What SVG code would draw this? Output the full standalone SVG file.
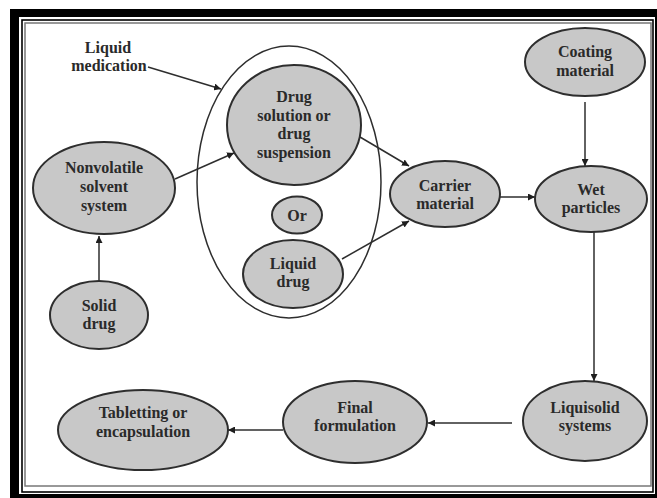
<svg xmlns="http://www.w3.org/2000/svg" width="657" height="498" viewBox="0 0 657 498">
<style>
.n{fill:#c8c8c8;stroke:#2e2e2e;stroke-width:2}
.t{font-family:"Liberation Serif","Times New Roman",serif;font-size:16px;font-weight:bold;fill:#2a2a2a;text-anchor:middle}
.c{stroke:#2e2e2e;stroke-width:1.5;fill:none;marker-end:url(#ah)}
</style>
<defs>
<marker id="ah" viewBox="0 0 10 10" refX="10" refY="5" markerWidth="7" markerHeight="7" markerUnits="userSpaceOnUse" orient="auto">
<path d="M0,0 L10,5 L0,10 z" fill="#1e1e1e"/>
</marker>
</defs>
<rect x="0" y="0" width="657" height="498" fill="#ffffff"/>
<g id="frame">
<rect x="10" y="9" width="647" height="489" fill="#000"/>
<rect x="19" y="17" width="636" height="477" fill="#fff"/>
<rect x="22" y="20" width="631" height="472" fill="none" stroke="#000" stroke-width="1.6"/>
<rect x="25" y="23" width="626" height="463" fill="#fff" stroke="#777" stroke-width="1.5"/>
</g>
<g id="group-liquid-medication">
<ellipse cx="289" cy="182" rx="92" ry="136" fill="none" stroke="#2e2e2e" stroke-width="1.5"/>
</g>
<g id="label-liquid-medication">
<text class="t" x="108" y="53">Liquid</text>
<text class="t" x="109" y="71">medication</text>
</g>
<g id="connectors">
<path class="c" d="M148,67 L221,89"/>
<path class="c" d="M175,179 L234,153"/>
<path class="c" d="M99,281 L99,236"/>
<path class="c" d="M360,137 L409,166"/>
<path class="c" d="M342,259 L409,221"/>
<path class="c" d="M500,197 L535,197"/>
<path class="c" d="M585,102 L585,166"/>
<path class="c" d="M594,232 L594,381"/>
<path class="c" d="M512,423 L428,423"/>
<path class="c" d="M283,430 L228,430"/>
</g>
<g id="drug-solution">
<ellipse class="n" cx="294" cy="125" rx="67" ry="60"/>
<text class="t" x="294" y="102">Drug</text>
<text class="t" x="294" y="120.5">solution or</text>
<text class="t" x="294" y="139">drug</text>
<text class="t" x="294" y="157.5">suspension</text>
</g>
<g id="or">
<ellipse class="n" cx="297" cy="215" rx="25" ry="18.5"/>
<text class="t" x="297" y="221">Or</text>
</g>
<g id="liquid-drug">
<ellipse class="n" cx="293" cy="274" rx="50" ry="34"/>
<text class="t" x="293" y="268.5">Liquid</text>
<text class="t" x="293" y="286.5">drug</text>
</g>
<g id="nonvolatile">
<ellipse class="n" cx="104" cy="188" rx="71" ry="46"/>
<text class="t" x="104" y="173">Nonvolatile</text>
<text class="t" x="104" y="192">solvent</text>
<text class="t" x="104" y="211">system</text>
</g>
<g id="solid-drug">
<ellipse class="n" cx="99" cy="315" rx="49" ry="34"/>
<text class="t" x="99" y="311">Solid</text>
<text class="t" x="99" y="329">drug</text>
</g>
<g id="carrier">
<ellipse class="n" cx="445" cy="194" rx="55" ry="33"/>
<text class="t" x="445" y="191">Carrier</text>
<text class="t" x="445" y="209">material</text>
</g>
<g id="coating">
<ellipse class="n" cx="585" cy="62" rx="60" ry="34"/>
<text class="t" x="585" y="57">Coating</text>
<text class="t" x="585" y="75.5">material</text>
</g>
<g id="wet">
<ellipse class="n" cx="591" cy="199" rx="56" ry="33"/>
<text class="t" x="591" y="195">Wet</text>
<text class="t" x="591" y="213">particles</text>
</g>
<g id="liquisolid">
<ellipse class="n" cx="585" cy="421" rx="62" ry="40"/>
<text class="t" x="585" y="413">Liquisolid</text>
<text class="t" x="585" y="431">systems</text>
</g>
<g id="final">
<ellipse class="n" cx="355" cy="422" rx="72" ry="41"/>
<text class="t" x="355" y="413">Final</text>
<text class="t" x="355" y="431">formulation</text>
</g>
<g id="tabletting">
<ellipse class="n" cx="143" cy="430" rx="85" ry="40"/>
<text class="t" x="143" y="418">Tabletting or</text>
<text class="t" x="143" y="437">encapsulation</text>
</g>
</svg>
